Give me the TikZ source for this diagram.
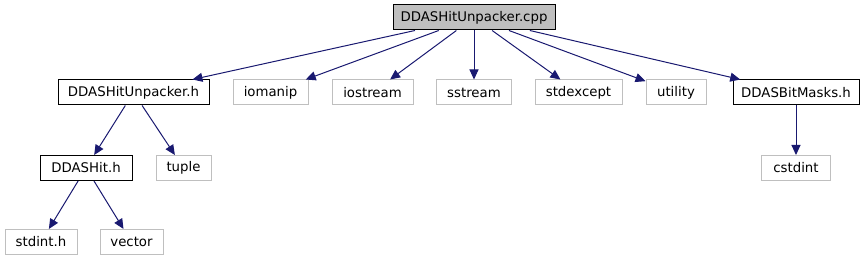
\documentclass[tikz,border=0pt]{standalone}
\usepackage{fontspec}
\setmainfont{DejaVu Sans}
\usetikzlibrary{arrows.meta}
\definecolor{edgeblue}{HTML}{191970}
\definecolor{boxgray}{HTML}{BFBFBF}
\tikzset{
	file/.style={draw=black, line width=1pt, rectangle, minimum height=25pt, inner xsep=2pt, inner ysep=0pt, font=\fontsize{13.3}{15}\selectfont},
	sysfile/.style={file, draw=boxgray},
	rootfile/.style={file, fill=boxgray},
	incl/.style={draw=edgeblue, line width=1pt, -{Triangle[length=10pt, width=9pt]}}
}
\begin{document}
\begin{tikzpicture}[x=1pt, y=-1pt]
	\useasboundingbox (0, 0) rectangle (867, 261);
	\node[rootfile, minimum width=162pt] (cpp) at (474, 17.5) {DDASHitUnpacker.cpp};
	\node[file, minimum width=151pt] (unpacker) at (133.5, 92.5) {DDASHitUnpacker.h};
	\node[sysfile, minimum width=75pt] (iomanip) at (270.5, 92.5) {iomanip};
	\node[sysfile, minimum width=81pt] (iostream) at (372.5, 92.5) {iostream};
	\node[sysfile, minimum width=75pt] (sstream) at (474, 92.5) {sstream};
	\node[sysfile, minimum width=87pt] (stdexcept) at (578.5, 92.5) {stdexcept};
	\node[sysfile, minimum width=60pt] (utility) at (676, 92.5) {utility};
	\node[file, minimum width=126pt] (bitmasks) at (796, 92.5) {DDASBitMasks.h};
	\node[file, minimum width=92pt] (hit) at (86, 168) {DDASHit.h};
	\node[sysfile, minimum width=55pt] (tuple) at (183.5, 168) {tuple};
	\node[sysfile, minimum width=69pt] (cstdint) at (796, 168) {cstdint};
	\node[sysfile, minimum width=72pt] (stdint) at (41, 242) {stdint.h};
	\node[sysfile, minimum width=63pt] (vector) at (131.5, 242) {vector};
	\draw[incl] (cpp) -- (unpacker);
	\draw[incl] (cpp) -- (iomanip);
	\draw[incl] (cpp) -- (iostream);
	\draw[incl] (cpp) -- (sstream);
	\draw[incl] (cpp) -- (stdexcept);
	\draw[incl] (cpp) -- (utility);
	\draw[incl] (cpp) -- (bitmasks);
	\draw[incl] (unpacker) -- (hit);
	\draw[incl] (unpacker) -- (tuple);
	\draw[incl] (hit) -- (stdint);
	\draw[incl] (hit) -- (vector);
	\draw[incl] (bitmasks) -- (cstdint);
\end{tikzpicture}
\end{document}
